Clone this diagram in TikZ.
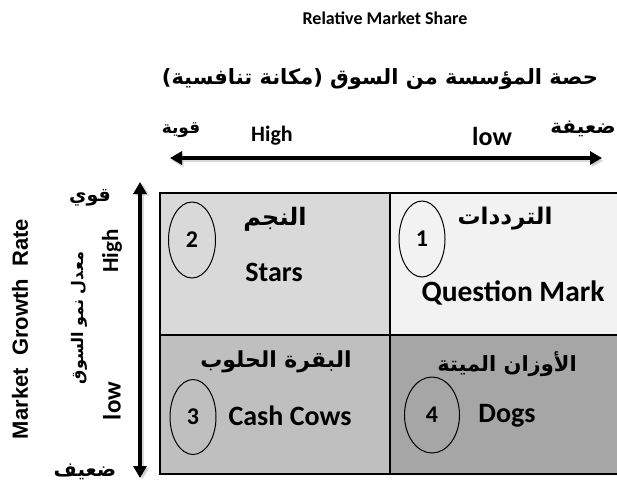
\documentclass[tikz,border=0pt]{standalone}
\usepackage{fontspec}
\setmainfont{Carlito}
\newfontfamily\arabicfont[Script=Arabic]{DejaVu Sans}
\newfontfamily\arialfont{Liberation Sans}
\TeXXeTstate=1
\usetikzlibrary{arrows.meta,shapes.geometric}
\definecolor{cellstar}{HTML}{D9D9D9}
\definecolor{cellquest}{HTML}{F2F2F2}
\definecolor{cellcow}{HTML}{BFBFBF}
\definecolor{celldog}{HTML}{A6A6A6}
\tikzset{
  axis/.style={line width=3.5pt,{Triangle[length=12pt,width=13pt]}-{Triangle[length=12pt,width=13pt]}},
  axisshadow/.style={axis,draw=black!25,opacity=0.6},
  grid/.style={line width=2pt},
  numring/.style={draw,ellipse,line width=1pt,inner sep=0pt},
  ar/.style={font=\arabicfont\bfseries\fontsize{#1}{#1}\selectfont,inner sep=0pt},
  lat/.style={font=\bfseries\fontsize{#1}{#1}\selectfont,inner sep=0pt},
}
\begin{document}
\begin{tikzpicture}[x=1pt,y=-1pt]
\clip (0,0) rectangle (617,485);
\fill[white] (0,0) rectangle (617,485);
% quadrant fills
\fill[cellstar]  (160,193) rectangle (390,335);
\fill[cellquest] (390,193) rectangle (620,335);
\fill[cellcow]   (160,335) rectangle (390,474);
\fill[celldog]   (390,335) rectangle (620,474);
\draw[grid] (620,193) -- (160,193) -- (160,474) -- (620,474);
\draw[grid] (390,193) -- (390,474);
\draw[grid] (160,335) -- (620,335);

% titles
\node[lat=18] (eng) at (385,18) {Relative Market Share};
\node[ar=21] (artitle) at (380,79) {\beginR حصة المؤسسة من السوق (مكانة تنافسية)\endR};

% horizontal axis
\coordinate (hl) at (170,158);
\coordinate (hr) at (602,158);
\draw[axisshadow] ([shift={(1.5,2.5)}]hl) -- ([shift={(1.5,2.5)}]hr);
\draw[axis] (hl) -- (hr);
\node[ar=17] (strongh) at (181,130) {\beginR قوية\endR};
\node[lat=22] (highh) at (272,136) {High};
\node[lat=26] (lowh) at (492,136) {low};
\node[ar=20] (weakh) at (583,129) {\beginR ضعيفة\endR};

% vertical axis
\coordinate (vt) at (140,182);
\coordinate (vb) at (140,478);
\draw[axisshadow] ([shift={(2.5,1.5)}]vb) -- ([shift={(2.5,1.5)}]vt);
\draw[axis] (vb) -- (vt);
\node[ar=19] (strongv) at (90,198) {\beginR قوي\endR};
\node[ar=20] (weakv) at (85,472) {\beginR ضعيف\endR};
\node[lat=23,rotate=90] (highv) at (112,251) {High};
\node[lat=25,rotate=90] (lowv) at (112,401) {low};
\node[ar=16,rotate=90] (rate) at (79,318) {\beginR معدل نمو السوق\endR};
\node[font=\arialfont\bfseries\fontsize{22}{22}\selectfont,inner sep=0pt,rotate=90] (mgr) at (20,329) {Market\ \ Growth\ \ Rate};

% quadrant 2: stars
\node[numring,minimum width=47pt,minimum height=76pt,lat=24] (n2) at (192,240) {2};
\node[ar=24] (starsar) at (275,219) {\beginR النجم\endR};
\node[lat=28] (stars) at (274,272) {Stars};

% quadrant 1: question mark
\node[numring,minimum width=46pt,minimum height=76pt,lat=24] (n1) at (422,239) {1};
\node[ar=23] (quesar) at (505,219) {\beginR الترددات\endR};
\node[lat=29.5] (ques) at (513,293) {Question Mark};

% quadrant 3: cash cows
\node[numring,minimum width=46pt,minimum height=75pt,lat=24] (n3) at (193,417) {3};
\node[ar=22] (cowar) at (276,362) {\beginR البقرة الحلوب\endR};
\node[lat=28] (cow) at (290,416) {Cash Cows};

% quadrant 4: dogs
\node[numring,minimum width=55pt,minimum height=76pt,lat=24] (n4) at (432,415) {4};
\node[ar=21] (dogar) at (507,364) {\beginR الأوزان الميتة\endR};
\node[lat=28] (dog) at (507,416) {Dogs};
\end{tikzpicture}
\end{document}
